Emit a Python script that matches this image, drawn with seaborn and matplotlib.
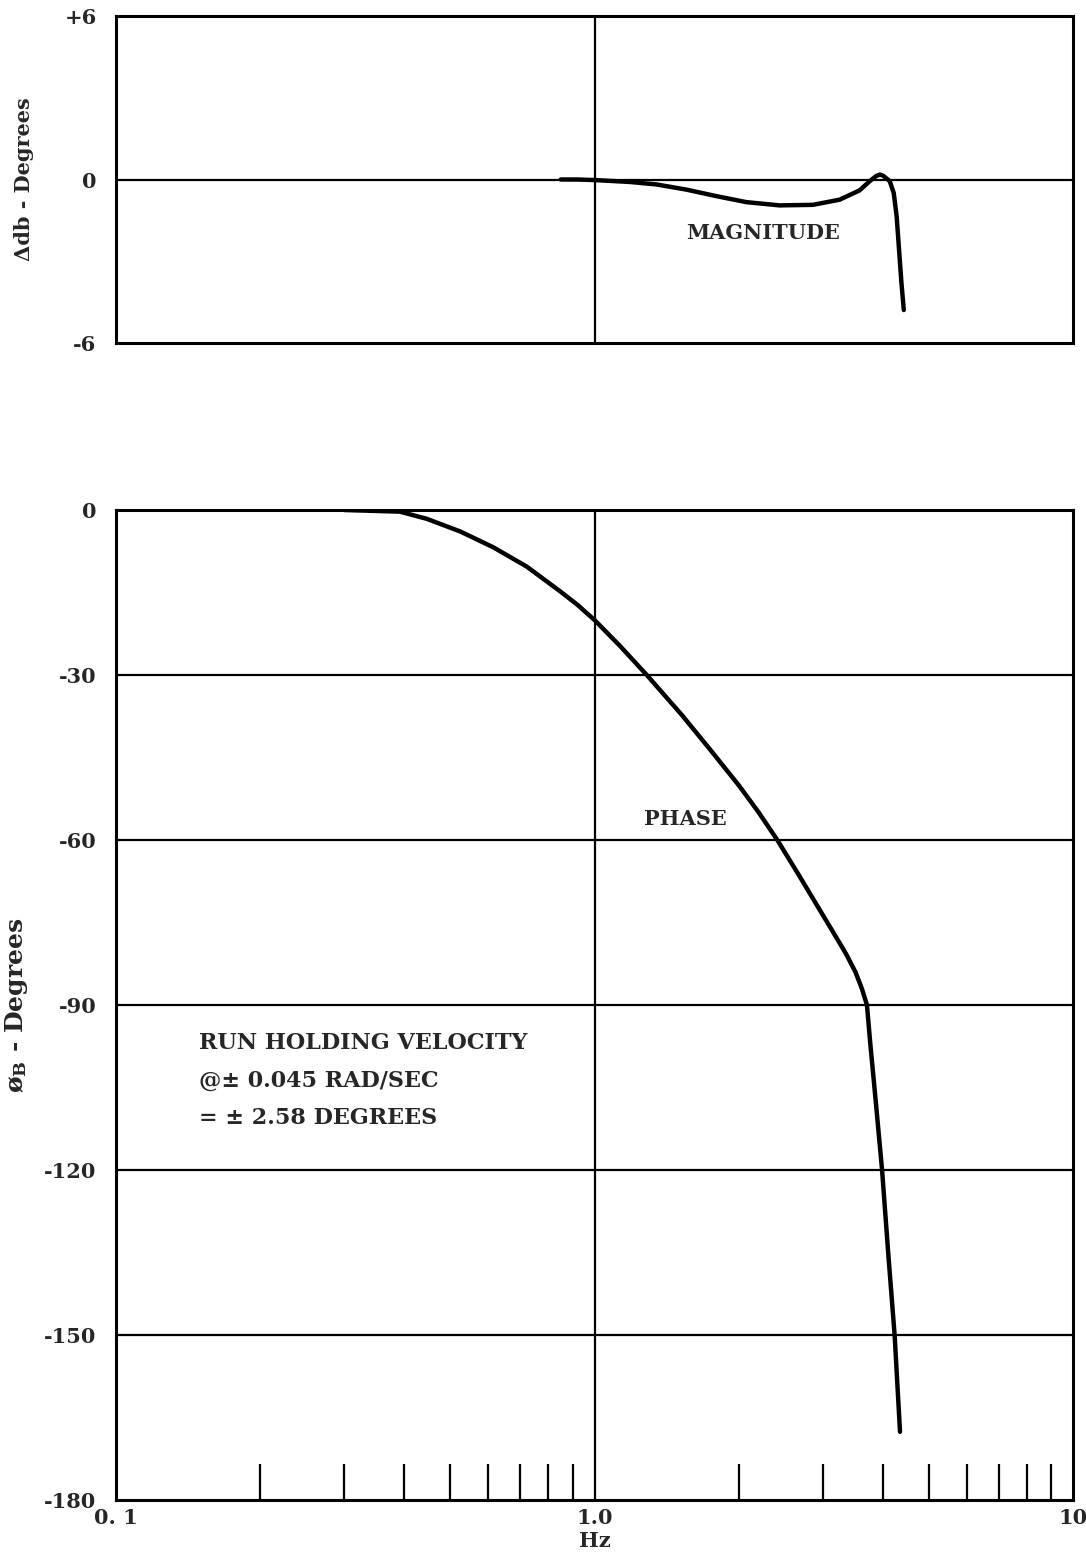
import matplotlib
matplotlib.use("Agg")
import matplotlib.pyplot as plt
import matplotlib.ticker as mticker
import seaborn as sns
import pandas as pd

# ---- data ----
freq_mag = [0.85, 0.92, 1.0, 1.184, 1.346, 1.555, 1.797, 2.076, 2.437, 2.86, 3.254,
            3.58, 3.76, 3.88, 3.95, 4.01, 4.14, 4.22, 4.28, 4.33, 4.38, 4.43]
mag_db = [0.0, 0.0, -0.02, -0.09, -0.18, -0.37, -0.61, -0.83, -0.95, -0.93, -0.74,
          -0.40, -0.06, 0.13, 0.18, 0.14, -0.06, -0.49, -1.35, -2.58, -3.80, -4.79]

freq_phase = [0.30, 0.392, 0.446, 0.524, 0.615, 0.722, 0.848, 0.92, 1.0, 1.13, 1.286,
              1.52, 1.746, 2.0, 2.20, 2.41, 2.67, 2.90, 3.14, 3.35, 3.51, 3.62, 3.71,
              3.77, 3.88, 3.99, 4.11, 4.24, 4.35]
phase_deg = [0, -0.3, -1.6, -3.9, -6.8, -10.3, -14.8, -17.2, -20.0, -24.7, -30.0,
             -37.2, -43.6, -50.0, -54.9, -60.0, -66.3, -71.5, -76.5, -80.6, -84.0, -87.0, -90.0,
             -97.0, -108.5, -120.0, -135.1, -150.2, -167.6]

mag_yticks = [-6, 0, 6]
mag_yticklabels = ["-6", "0", "+6"]
phase_yticks = [0, -30, -60, -90, -120, -150, -180]
x_ticks = [0.1, 1.0, 10]
x_ticklabels = ["0. 1", "1.0", "10"]
notes = ["RUN HOLDING VELOCITY", "@\u00b1 0.045 RAD/SEC", "= \u00b1 2.58 DEGREES"]
notes_y = [-96.9, -103.8, -110.5]

sns.set_style("white")
plt.rcParams["font.family"] = ["DejaVu Serif", "DejaVu Sans"]
plt.rcParams["font.weight"] = "bold"
plt.rcParams["mathtext.fontset"] = "dejavuserif"

W, H = 1086, 1559
fig = plt.figure(figsize=(W / 100, H / 100), dpi=100)
left, right = 116 / W, 1073 / W
ax1 = fig.add_axes([left, 1 - 343 / H, right - left, 327 / H])
ax2 = fig.add_axes([left, 1 - 1500 / H, right - left, 990 / H])

df_mag = pd.DataFrame({"Hz": freq_mag, "db": mag_db})
df_ph = pd.DataFrame({"Hz": freq_phase, "deg": phase_deg})

for ax in (ax1, ax2):
    ax.set_xscale("log")
    ax.set_xlim(0.1, 10)
    for s in ax.spines.values():
        s.set_linewidth(2.2)
        s.set_color("black")
        s.set_visible(True)
    ax.axvline(1.0, color="black", lw=1.6, zorder=1)

line_kw = dict(color="black", lw=3.2, sort=False, estimator=None)

# top panel
sns.lineplot(data=df_mag, x="Hz", y="db", ax=ax1, **line_kw)
ax1.lines[-1].set_solid_joinstyle("round")
ax1.lines[-1].set_solid_capstyle("round")
ax1.set_ylim(-6, 6)
ax1.axhline(0, color="black", lw=1.6, zorder=1)
ax1.set_yticks(mag_yticks)
ax1.set_yticklabels(mag_yticklabels)
ax1.xaxis.set_major_locator(mticker.NullLocator())
ax1.xaxis.set_minor_locator(mticker.NullLocator())
ax1.set_xlabel("")
ax1.set_ylabel("\u0394db - Degrees", fontsize=15, fontweight="bold", labelpad=22)
ax1.tick_params(axis="y", length=0, pad=14, labelsize=15)
ax1.text(2.25, -1.95, "MAGNITUDE", ha="center", va="center", fontsize=15, fontweight="bold")

# bottom panel
sns.lineplot(data=df_ph, x="Hz", y="deg", ax=ax2, **line_kw)
ax2.lines[-1].set_solid_joinstyle("round")
ax2.lines[-1].set_solid_capstyle("round")
ax2.set_ylim(-180, 0)
for yv in phase_yticks[1:-1]:
    ax2.axhline(yv, color="black", lw=1.6, zorder=1)
ax2.set_yticks(phase_yticks)
ax2.set_yticklabels([str(v) for v in phase_yticks])
ax2.set_xticks(x_ticks)
ax2.set_xticklabels(x_ticklabels)
ax2.xaxis.set_minor_locator(mticker.LogLocator(base=10, subs=[2, 3, 4, 5, 6, 7, 8, 9]))
ax2.xaxis.set_minor_formatter(mticker.NullFormatter())
ax2.tick_params(axis="x", which="minor", bottom=True, direction="in", length=26,
                width=1.6, color="black")
ax2.tick_params(axis="x", which="major", bottom=True, length=0, pad=6, labelsize=15)
ax2.tick_params(axis="y", length=0, pad=14, labelsize=15)
ax2.set_xlabel("Hz", fontsize=15, fontweight="bold", labelpad=2)
ax2.set_ylabel("\u00f8$_{\\mathbf{B}}$ - Degrees", fontsize=18, fontweight="bold", labelpad=10)
ax2.text(1.55, -56.2, "PHASE", ha="center", va="center", fontsize=15, fontweight="bold")

for t, yv in zip(notes, notes_y):
    ax2.text(0.149, yv, t, ha="left", va="center", fontsize=16, fontweight="bold")

fig.savefig("out.png", dpi=100)
